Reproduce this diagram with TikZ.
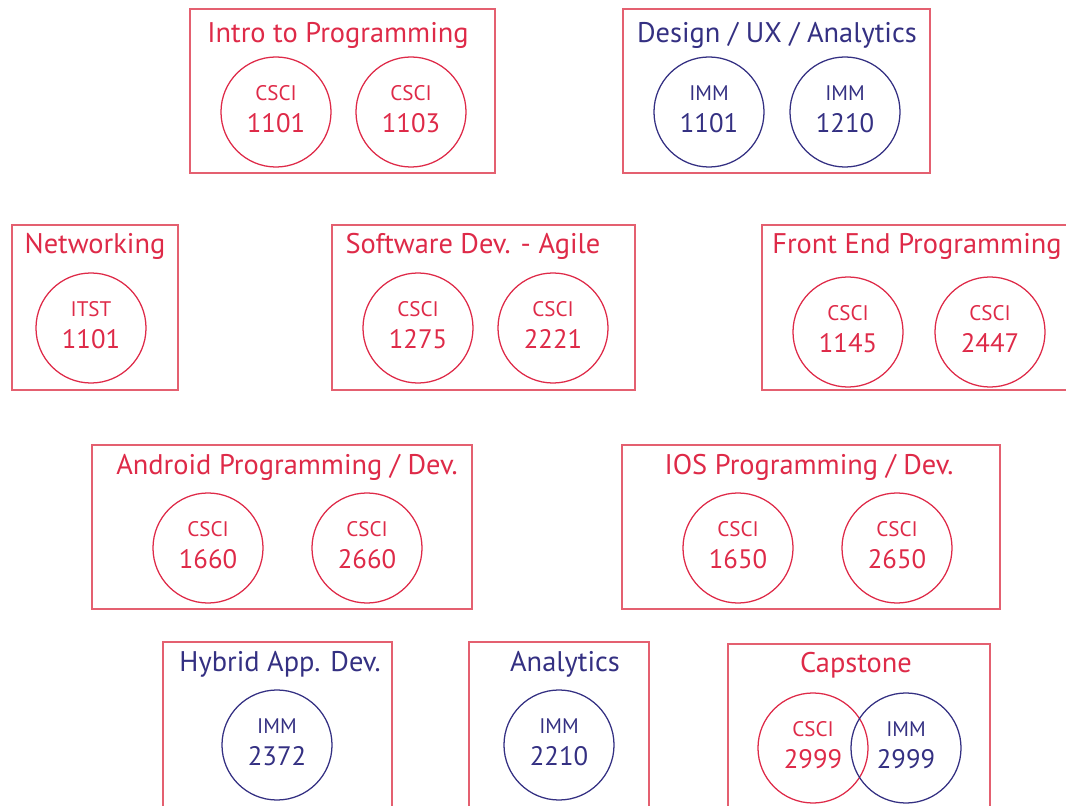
\documentclass[tikz,border=0pt]{standalone}
\usepackage{fontspec}
\setmainfont{PT Sans}
\usepackage{tikz}

\definecolor{csred}{RGB}{222,42,72}
\definecolor{immblue}{RGB}{52,48,130}
\definecolor{boxred}{RGB}{228,96,112}

\tikzset{
    box/.style={draw=boxred, line width=0.8pt},
    ttl/.style={anchor=base, inner sep=0pt, font=\fontsize{20.2}{22}\selectfont},
    course/.style={circle, line width=0.9pt, minimum size=2.75cm, inner sep=0pt,
        align=center, font=\fontsize{19}{23}\selectfont},
    csci/.style={course, draw=csred, text=csred},
    imm/.style={course, draw=immblue, text=immblue}
}
\newcommand{\crs}[2]{{\fontsize{15}{16}\selectfont #1}\\#2\rule[-4.5pt]{0pt}{4.5pt}}

\begin{document}
\begin{tikzpicture}[x=0.025cm, y=-0.025cm]
                \useasboundingbox (0,0) rectangle (1066,806);

                % first row
                \draw[box] (190,9) rectangle (495,173);
                \node[ttl, text=csred] (intro) at (338,43) {Intro to Programming};
                \node[csci] (c1101) at (276,112) {\crs{CSCI}{1101}};
                \node[csci] (c1103) at (411,112) {\crs{CSCI}{1103}};

                \draw[box] (623,9) rectangle (930,173);
                \node[ttl, text=immblue] (design) at (777,43) {Design / UX / Analytics};
                \node[imm] (i1101) at (709,112) {\crs{IMM}{1101}};
                \node[imm] (i1210) at (845,112) {\crs{IMM}{1210}};

                % second row
                \draw[box] (12,225) rectangle (178,390);
                \node[ttl, text=csred] (net) at (95,254) {Networking};
                \node[csci] (t1101) at (91,328) {\crs{ITST}{1101}};

                \draw[box] (332,225) rectangle (635,390);
                \node[ttl, text=csred] (agile) at (473,254) {Software Dev. - Agile};
                \node[csci] (c1275) at (418,328) {\crs{CSCI}{1275}};
                \node[csci] (c2221) at (553,328) {\crs{CSCI}{2221}};

                \draw[box] (762,225) rectangle (1070,390);
                \node[ttl, text=csred] (front) at (917,254) {Front End Programming};
                \node[csci] (c1145) at (848,332) {\crs{CSCI}{1145}};
                \node[csci] (c2447) at (990,332) {\crs{CSCI}{2447}};

                % third row
                \draw[box] (92,445) rectangle (472,609);
                \node[ttl, text=csred] (android) at (287,475) {Android Programming / Dev.};
                \node[csci] (c1660) at (208,548) {\crs{CSCI}{1660}};
                \node[csci] (c2660) at (367,548) {\crs{CSCI}{2660}};

                \draw[box] (622,445) rectangle (1000,609);
                \node[ttl, text=csred] (ios) at (809,475) {IOS Programming / Dev.};
                \node[csci] (c1650) at (738,548) {\crs{CSCI}{1650}};
                \node[csci] (c2650) at (897,548) {\crs{CSCI}{2650}};

                % last row
                \draw[box] (163,642) rectangle (392,812);
                \node[ttl, text=immblue] (hybrid) at (280,671) {Hybrid App. Dev.};
                \node[imm] (i2372) at (277,745) {\crs{IMM}{2372}};

                \draw[box] (469,642) rectangle (649,812);
                \node[ttl, text=immblue] (analytics) at (565,671) {Analytics};
                \node[imm] (i2210) at (559,745) {\crs{IMM}{2210}};

                \draw[box] (728,644) rectangle (990,812);
                \node[ttl, text=csred] (capstone) at (856,672) {Capstone};
                \node[csci] (c2999) at (813,748) {\crs{CSCI}{2999}};
                \node[imm] (i2999) at (906,748) {\crs{IMM}{2999}};
\end{tikzpicture}
\end{document}
